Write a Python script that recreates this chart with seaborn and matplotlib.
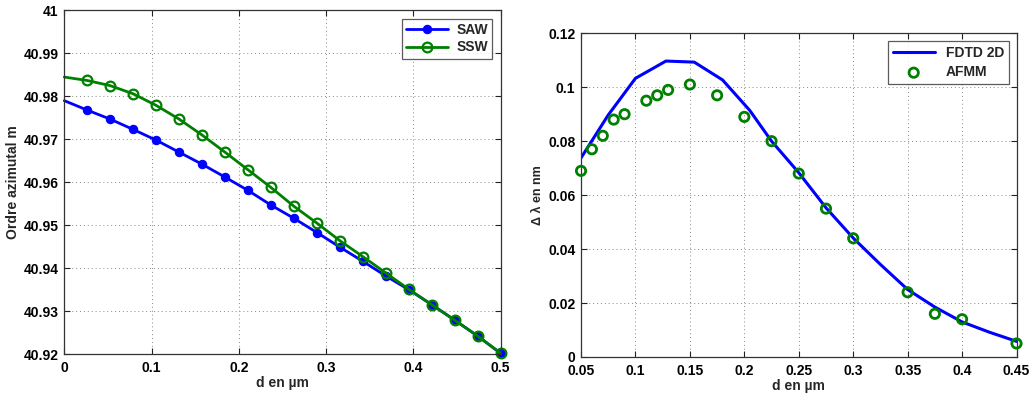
import numpy as np
import pandas as pd
import matplotlib
matplotlib.use("Agg")
import matplotlib.pyplot as plt
import seaborn as sns

# ---- Left panel data ----
d_left = [0.0, 0.0263, 0.0526, 0.0789, 0.1053, 0.1316, 0.1579, 0.1842, 0.2105, 0.2368,
          0.2632, 0.2895, 0.3158, 0.3421, 0.3684, 0.3947, 0.4211, 0.4474, 0.4737, 0.5]
saw = [40.9790, 40.9768, 40.9747, 40.9723, 40.9698, 40.9670, 40.9642, 40.9612, 40.9581, 40.9547,
       40.9516, 40.9483, 40.9449, 40.9416, 40.9382, 40.9350, 40.9315, 40.9279, 40.9242, 40.9202]
ssw = [40.9845, 40.9837, 40.9825, 40.9806, 40.9779, 40.9747, 40.9710, 40.9670, 40.9629, 40.9588,
       40.9544, 40.9505, 40.9464, 40.9427, 40.9389, 40.9351, 40.9315, 40.9279, 40.9242, 40.9202]

# ---- Right panel data ----
d_fdtd = [0.05, 0.075, 0.1, 0.128, 0.154, 0.18, 0.205, 0.225, 0.25, 0.275, 0.3,
          0.325, 0.35, 0.375, 0.4, 0.425, 0.45]
fdtd = [0.0738, 0.0897, 0.1033, 0.1097, 0.1093, 0.1027, 0.0914, 0.0800, 0.0683, 0.0553, 0.0441,
        0.0343, 0.0250, 0.0185, 0.0130, 0.0092, 0.0058]
d_afmm = [0.05, 0.06, 0.07, 0.08, 0.09, 0.11, 0.12, 0.13, 0.15, 0.175, 0.2, 0.225, 0.25,
          0.275, 0.3, 0.35, 0.375, 0.4, 0.45]
afmm = [0.069, 0.077, 0.082, 0.088, 0.090, 0.095, 0.097, 0.099, 0.101, 0.097, 0.089, 0.080, 0.068,
        0.055, 0.044, 0.024, 0.016, 0.014, 0.005]

left_xticks = [0, 0.1, 0.2, 0.3, 0.4, 0.5]
left_xticklabels = ["0", "0.1", "0.2", "0.3", "0.4", "0.5"]
left_yticks = [40.92, 40.93, 40.94, 40.95, 40.96, 40.97, 40.98, 40.99, 41.0]
left_yticklabels = ["40.92", "40.93", "40.94", "40.95", "40.96", "40.97", "40.98", "40.99", "41"]
right_xticks = [0.05, 0.1, 0.15, 0.2, 0.25, 0.3, 0.35, 0.4, 0.45]
right_xticklabels = ["0.05", "0.1", "0.15", "0.2", "0.25", "0.3", "0.35", "0.4", "0.45"]
right_yticks = [0, 0.02, 0.04, 0.06, 0.08, 0.1, 0.12]
right_yticklabels = ["0", "0.02", "0.04", "0.06", "0.08", "0.1", "0.12"]

sns.set_theme(style="white")
plt.rcParams['font.family'] = ['Liberation Sans', 'DejaVu Sans']
plt.rcParams['font.weight'] = 'bold'
plt.rcParams['axes.labelweight'] = 'bold'

BLUE = (0, 0, 1)
GREEN = (0, 0.5, 0)
FS = 10

fig = plt.figure(figsize=(10.32, 3.96), dpi=100)
ax1 = fig.add_axes([0.0623, 0.106, 0.4227, 0.8675])
ax2 = fig.add_axes([0.563, 0.0985, 0.422, 0.8175])

df_left = pd.DataFrame({"d": d_left + d_left,
                        "val": saw + ssw,
                        "serie": ["SAW"] * len(d_left) + ["SSW"] * len(d_left)})

sns.lineplot(data=df_left[df_left.serie == "SAW"], x="d", y="val", ax=ax1, color=BLUE,
             lw=2, marker="o", markersize=6, markeredgewidth=0.8, markeredgecolor=BLUE,
             markevery=list(range(1, 20)), label="SAW", estimator=None, sort=False, clip_on=False)
sns.lineplot(data=df_left[df_left.serie == "SSW"], x="d", y="val", ax=ax1, color=GREEN,
             lw=2, marker="o", markersize=7, markerfacecolor="none", markeredgewidth=1.6,
             markeredgecolor=GREEN, markevery=list(range(1, 20)), label="SSW",
             estimator=None, sort=False, clip_on=False)

df_fdtd = pd.DataFrame({"d": d_fdtd, "val": fdtd})
df_afmm = pd.DataFrame({"d": d_afmm, "val": afmm})
sns.lineplot(data=df_fdtd, x="d", y="val", ax=ax2, color=BLUE, lw=2.2, label="FDTD 2D",
             estimator=None, sort=False)
sns.scatterplot(data=df_afmm, x="d", y="val", ax=ax2, marker="o", s=45, facecolor="none",
                edgecolor=GREEN, linewidth=2, label="AFMM", clip_on=False, zorder=3)

for ax, xt, xtl, yt, ytl, xl, yl, xlabel, ylabel in [
    (ax1, left_xticks, left_xticklabels, left_yticks, left_yticklabels, (0, 0.5), (40.92, 41.0),
     "d en µm", "Ordre azimutal m"),
    (ax2, right_xticks, right_xticklabels, right_yticks, right_yticklabels, (0.05, 0.45), (0, 0.12),
     "d en µm", "Δ λ en nm")]:
    ax.set_xlim(*xl)
    ax.set_ylim(*yl)
    ax.set_xticks(xt)
    ax.set_xticklabels(xtl, fontsize=FS, fontweight="bold")
    ax.set_yticks(yt)
    ax.set_yticklabels(ytl, fontsize=FS, fontweight="bold")
    ax.set_xlabel(xlabel, fontsize=FS, fontweight="bold", labelpad=1)
    ax.set_ylabel(ylabel, fontsize=FS, fontweight="bold", labelpad=3)
    ax.grid(True, linestyle=(0, (1, 3)), color="#888888", linewidth=0.7)
    ax.tick_params(direction="in", length=4, width=0.8, color="#222222", top=True, right=True,
                   bottom=True, left=True, pad=4, labelcolor="black")
    ax.tick_params(axis="x", pad=5)
    for s in ax.spines.values():
        s.set_color("#333333")
        s.set_linewidth(0.9)
        s.set_visible(True)
    ax.set_facecolor("white")

ax2.yaxis.label.set_fontsize(9)

leg1 = ax1.legend(loc="upper right", fontsize=FS, frameon=True, fancybox=False,
                  edgecolor="#333333", borderaxespad=0.6, handlelength=3.0, labelspacing=0.25,
                  borderpad=0.3, handletextpad=0.6)
leg1.get_frame().set_linewidth(0.9)
leg2 = ax2.legend(loc="upper right", fontsize=FS, frameon=True, fancybox=False,
                  edgecolor="#333333", borderaxespad=0.55, handlelength=3.0, labelspacing=0.4,
                  borderpad=0.35, handletextpad=0.8)
leg2.get_frame().set_linewidth(0.9)
for leg in (leg1, leg2):
    for t in leg.get_texts():
        t.set_fontweight("bold")

fig.savefig("out.png", dpi=100, facecolor="white")
